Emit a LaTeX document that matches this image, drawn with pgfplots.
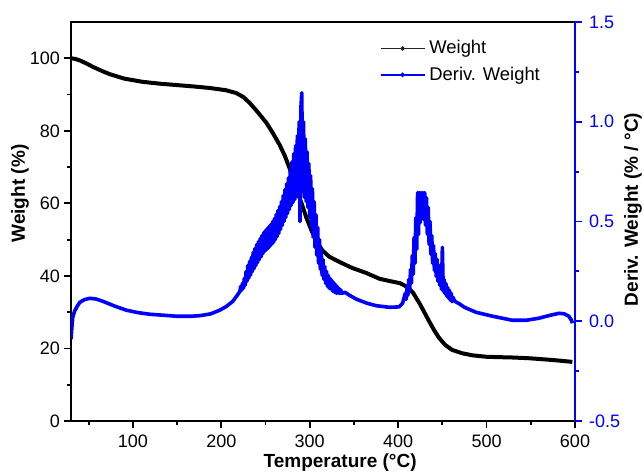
\documentclass[border=0pt]{standalone}
\usepackage{fontspec}
\setmainfont{Liberation Sans}
\usepackage{pgfplots}
\pgfplotsset{compat=1.18}

\definecolor{dtgblue}{RGB}{0,0,255}

\begin{document}
\begin{tikzpicture}
\pgfplotsset{
  tga/.style={
    scale only axis, width=252pt, height=199.5pt,
    xmin=30, xmax=600,
    tick align=outside,
    major tick length=3.5pt, minor tick length=2pt,
    axis line style={line width=0.9pt},
    every tick/.style={line width=0.9pt},
    tick label style={font=\fontsize{9}{10.5}\selectfont},
    label style={font=\fontsize{9.5}{11}\selectfont\bfseries},
    /pgf/number format/assume math mode=true,
  }
}
\begin{axis}[tga,
  ymin=0, ymax=110,
  xtick={100,200,300,400,500,600}, minor xtick={50,150,250,350,450,550},
  ytick={0,20,40,60,80,100}, minor ytick={10,30,50,70,90},
  xtick pos=bottom, ytick pos=left,
  yticklabel shift={-1.5pt},
  xlabel={Temperature (°C)}, ylabel={Weight (\%)},
  xlabel style={at={(axis description cs:0.534,-0.103)}, anchor=center},
  ylabel style={at={(axis description cs:-0.101,0.57)}, anchor=center},
  ]
\coordinate (sw) at (rel axis cs:0,0);
\coordinate (ne) at (rel axis cs:1,1);
\addplot[black, line width=2pt] coordinates {
(30,100.0) (35,99.8) (40,99.4) (48,98.5) (55,97.6) (65,96.5) (74,95.6) (90,94.4)
(111,93.5) (130,93.0) (150,92.6)
(170,92.2) (187,91.8) (205,91.2) (217,90.4) (225,89.3) (232,87.7) (240,85.5) (251,82.2)
(258,79.5) (266,76.1) (272,73.0) (277,69.8) (283,65.5) (290,60.5) (296,56.2) (302,52.5)
(308,49.5) (314,47.1) (322,45.3) (334,43.8) (348,42.2) (364,40.8) (379,39.2) (390,38.6)
(402,38.0) (410,37.0) (417,35.3) (424,32.5) (430,29.8) (435,27.5) (441,24.9) (446,23.0)
(453,21.0) (461,19.6) (472,18.7) (484,18.1) (500,17.7) (514,17.6) (530,17.5) (548,17.3)
(565,17.0) (580,16.7) (597,16.3)
};
\end{axis}
\begin{axis}[tga,
  ymin=-0.5, ymax=1.5,
  axis x line=none, axis y line*=right,
  ytick={-0.5,0,0.5,1,1.5}, minor ytick={-0.25,0.25,0.75,1.25},
  y axis line style={draw=dtgblue},
  ytick style={draw=dtgblue},
  yticklabel style={text=dtgblue, /pgf/number format/fixed,
    /pgf/number format/fixed zerofill, /pgf/number format/precision=1},
  ylabel={Deriv. Weight (\% / °C)},
  ylabel style={at={(axis description cs:1.115,0.53)}, anchor=center},
  legend style={at={(0.6,0.975)}, anchor=north west, draw=none, fill=none,
    font=\fontsize{9.2}{10.5}\selectfont, row sep=1pt},
  legend cell align=left,
  legend image code/.code={\draw[mark repeat=2,mark phase=2,#1]
    plot coordinates {(0pt,0pt) (11pt,0pt) (22pt,0pt)};},
  ]
\addlegendimage{black!85, line width=0.8pt, mark=*, mark size=0.7pt}
\addlegendentry{Weight}
\addlegendimage{dtgblue, line width=0.8pt, mark=*, mark size=0.7pt}
\addlegendentry{Deriv. Weight}
\addplot[dtgblue, line width=1.8pt, line join=round, forget plot] coordinates {
(30,-0.09) (31,-0.03) (32,0.02) (34,0.05) (37,0.075) (40,0.095) (45,0.108) (51,0.115)
(58,0.112) (66,0.100) (80,0.075) (93,0.055) (106,0.043) (119,0.035) (135,0.030)
(150,0.025) (165,0.025) (176,0.028) (188,0.037) (198,0.055) (206,0.075) (213,0.100)
(218,0.130) (221,0.150)
(222,0.175) (223,0.155) (224,0.190) (225,0.165) (226,0.215) (227,0.180) (228,0.250)
(229,0.200) (230,0.280) (231,0.215) (232,0.300) (233,0.230) (234,0.320) (235,0.248)
(236,0.345) (237,0.263) (238,0.365) (239,0.278) (240,0.385) (241,0.293) (242,0.400)
(243,0.308) (244,0.415) (245,0.323) (246,0.430) (247,0.338) (248,0.445) (249,0.350)
(250,0.455) (251,0.358) (252,0.465) (253,0.365) (254,0.475) (255,0.375) (256,0.485)
(257,0.385) (258,0.500) (259,0.395) (260,0.515) (261,0.408) (262,0.535) (263,0.423)
(264,0.555) (265,0.440) (266,0.575) (267,0.460) (268,0.600) (269,0.480) (270,0.630)
(271,0.500) (272,0.660) (273,0.520) (274,0.690) (275,0.540) (276,0.720) (277,0.560)
(278,0.760) (279,0.580) (280,0.800) (281,0.595) (282,0.840) (283,0.610) (284,0.880)
(285,0.625) (286,0.930) (287,0.635) (288,1.000) (289,0.500) (290,1.070) (291,1.145)
(292,0.650) (293,1.000) (294,0.620) (295,0.915) (296,0.600) (297,0.850) (298,0.570)
(299,0.790) (300,0.520) (301,0.730) (302,0.470) (303,0.665) (304,0.420) (305,0.600)
(306,0.370) (307,0.535) (308,0.330) (309,0.470) (310,0.290) (311,0.410) (312,0.260)
(313,0.355) (314,0.230) (315,0.310) (316,0.210) (317,0.275) (318,0.190) (319,0.250)
(320,0.175) (321,0.230) (322,0.165) (323,0.215) (324,0.160) (325,0.205) (326,0.150)
(327,0.195) (328,0.145) (329,0.185) (330,0.140) (331,0.175) (332,0.140) (333,0.165)
(334,0.140) (335,0.158) (336,0.140)
(340,0.145) (345,0.130) (353,0.110) (365,0.090) (375,0.078) (390,0.070) (401,0.072)
(405,0.090)
(408,0.140) (409,0.110) (410,0.170) (411,0.130) (412,0.210) (413,0.155) (414,0.260)
(415,0.190) (416,0.330) (417,0.235) (418,0.420) (419,0.290) (420,0.520) (421,0.360)
(422,0.645) (423,0.435) (424,0.645) (425,0.495) (426,0.645) (427,0.520) (428,0.645)
(429,0.510) (430,0.645) (431,0.480) (432,0.620) (433,0.435) (434,0.570) (435,0.385)
(436,0.500) (437,0.335) (438,0.430) (439,0.290) (440,0.380) (441,0.255) (442,0.340)
(443,0.225) (444,0.310) (445,0.200) (446,0.280) (447,0.180) (448,0.250) (449,0.160)
(450,0.370) (451,0.150) (452,0.210) (453,0.138) (454,0.190) (455,0.125) (456,0.170)
(457,0.115) (458,0.155) (459,0.105) (460,0.140) (461,0.098) (462,0.120)
(464,0.100) (469,0.088) (475,0.070) (488,0.045) (507,0.025) (529,0.005) (545,0.005)
(559,0.015) (572,0.030) (582,0.040) (588,0.037) (593,0.025) (596,0.005) (597,-0.010)
};
\end{axis}
\pgfresetboundingbox
\path[use as bounding box] ([shift={(-35.5pt,-26.5pt)}]sw) rectangle ([shift={(34.5pt,11pt)}]ne);
\end{tikzpicture}
\end{document}
